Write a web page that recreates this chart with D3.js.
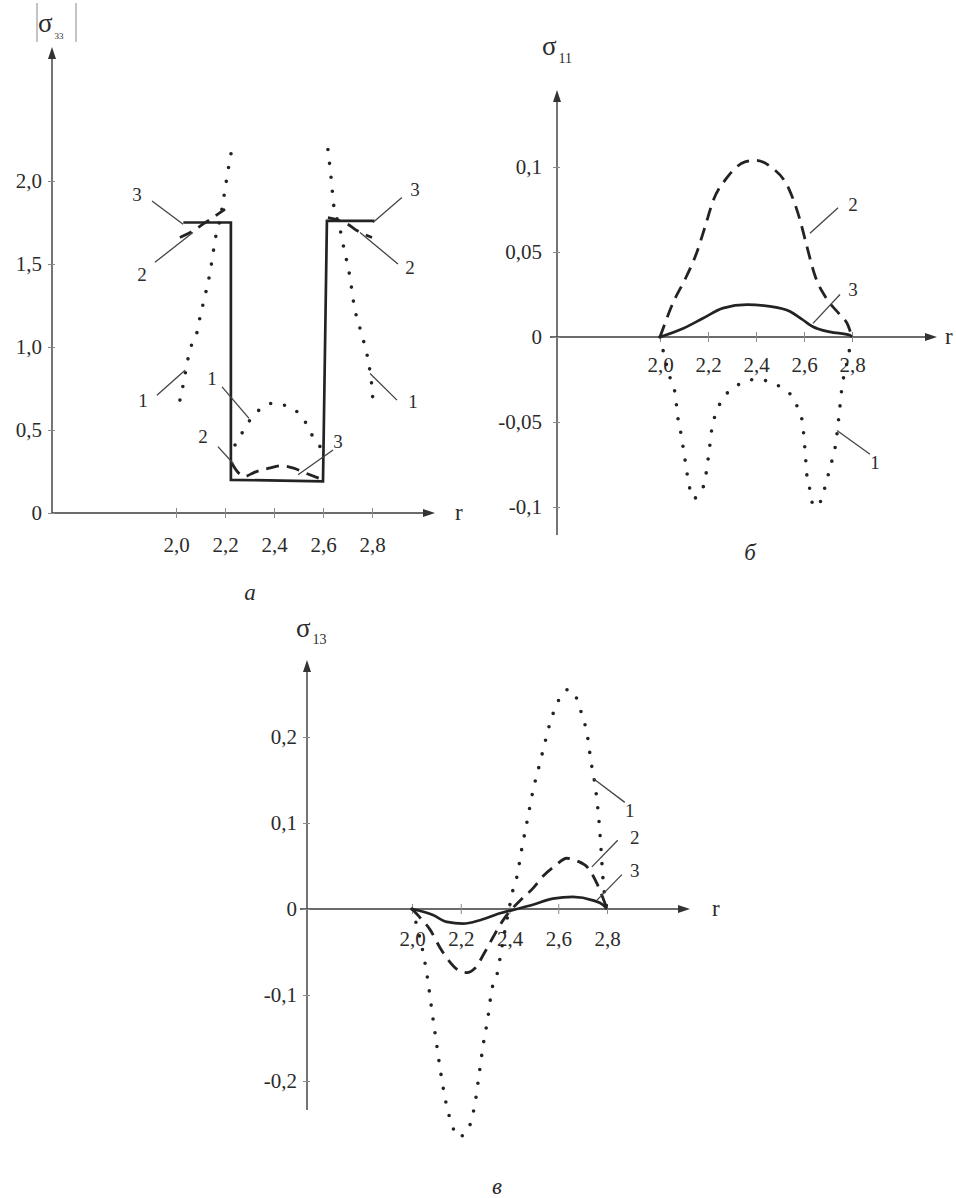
<!DOCTYPE html>
<html>
<head>
<meta charset="utf-8">
<script src="https://cdn.jsdelivr.net/npm/d3@7"></script>
<style>
  body { margin: 0; background: #fff; }
  svg text { font-family: "Liberation Serif", "Times New Roman", serif; fill: #2b2b2b; }
</style>
</head>
<body>
<div id="chart"></div>
<script>
// ---- data ----
var rTicks = [2.0, 2.2, 2.4, 2.6, 2.8];
var rTickLabels = ["2,0", "2,2", "2,4", "2,6", "2,8"];

// panel а : |sigma33|
var yTicksA = [0, 0.5, 1.0, 1.5, 2.0];
var yLabelsA = ["0", "0,5", "1,0", "1,5", "2,0"];
var a1LeftR = [2.016, 2.029, 2.049, 2.065, 2.086, 2.098, 2.114, 2.139, 2.163, 2.18, 2.196, 2.212, 2.229];
var a1LeftV = [0.68, 0.77, 0.93, 1.02, 1.09, 1.18, 1.28, 1.45, 1.67, 1.77, 1.91, 2.06, 2.2];
var a1MidR = [2.241, 2.273, 2.302, 2.339, 2.392, 2.441, 2.494, 2.531, 2.555, 2.588];
var a1MidV = [0.41, 0.49, 0.56, 0.62, 0.66, 0.65, 0.61, 0.54, 0.47, 0.40];
var a1RightR = [2.62, 2.633, 2.645, 2.665, 2.686, 2.71, 2.727, 2.755, 2.784, 2.80, 2.804];
var a1RightV = [2.19, 2.02, 1.84, 1.74, 1.59, 1.42, 1.25, 1.09, 0.92, 0.75, 0.67];
var a2LeftR = [2.016, 2.07, 2.11, 2.171, 2.2];
var a2LeftV = [1.66, 1.70, 1.74, 1.80, 1.83];
var a2BotR = [2.228, 2.25, 2.28, 2.32, 2.38, 2.43, 2.48, 2.53, 2.6];
var a2BotV = [0.30, 0.25, 0.22, 0.245, 0.27, 0.285, 0.27, 0.24, 0.20];
var a2RightR = [2.62, 2.66, 2.70, 2.74, 2.80];
var a2RightV = [1.78, 1.765, 1.74, 1.70, 1.66];
var a3R = [2.03, 2.224, 2.224, 2.60, 2.616, 2.81];
var a3V = [1.75, 1.75, 0.20, 0.19, 1.76, 1.76];
// [label, r, v, leader r1, v1, r2, v2]
var notesA = [
  ["3", 1.841, 1.92, 1.902, 1.88, 2.029, 1.74],
  ["2", 1.861, 1.44, 1.914, 1.51, 2.069, 1.69],
  ["1", 1.865, 0.68, 1.922, 0.71, 2.037, 0.86],
  ["1", 2.147, 0.81, 2.188, 0.76, 2.298, 0.57],
  ["2", 2.110, 0.46, 2.171, 0.40, 2.233, 0.30],
  ["3", 2.661, 0.43, 2.498, 0.23, 2.641, 0.38],
  ["3", 2.976, 1.95, 2.804, 1.75, 2.922, 1.90],
  ["2", 2.955, 1.48, 2.751, 1.69, 2.906, 1.50],
  ["1", 2.967, 0.67, 2.792, 0.84, 2.902, 0.68]
];

// panel б : sigma11
var yTicksB = [-0.1, -0.05, 0, 0.05, 0.1];
var yLabelsB = ["-0,1", "-0,05", "0", "0,05", "0,1"];
var b1R = [2.0, 2.025, 2.042, 2.0625, 2.075, 2.0875, 2.104, 2.121, 2.1375, 2.167, 2.1875, 2.204, 2.217, 2.233,
           2.258, 2.296, 2.342, 2.396, 2.45, 2.508, 2.55, 2.575, 2.592, 2.604, 2.6125, 2.625, 2.633, 2.658,
           2.675, 2.692, 2.708, 2.733, 2.746, 2.758, 2.779, 2.8];
var b1V = [0, -0.015, -0.024, -0.033, -0.048, -0.057, -0.072, -0.087, -0.095, -0.092, -0.084, -0.068, -0.053, -0.045,
           -0.037, -0.031, -0.027, -0.025, -0.026, -0.030, -0.035, -0.042, -0.049, -0.066, -0.082, -0.090, -0.097, -0.100,
           -0.094, -0.086, -0.077, -0.062, -0.046, -0.030, -0.015, 0];
var b2R = [2.0, 2.054, 2.108, 2.154, 2.188, 2.221, 2.275, 2.354, 2.396, 2.4625, 2.5375, 2.583, 2.6125, 2.646, 2.692, 2.75, 2.783, 2.8];
var b2V = [0, 0.020, 0.035, 0.050, 0.065, 0.080, 0.093, 0.103, 0.104, 0.100, 0.087, 0.069, 0.053, 0.036, 0.023, 0.013, 0.007, 0];
var b3R = [2.0, 2.096, 2.179, 2.2625, 2.3625, 2.458, 2.542, 2.596, 2.6375, 2.708, 2.792, 2.8];
var b3V = [0, 0.005, 0.011, 0.017, 0.019, 0.018, 0.015, 0.010, 0.006, 0.003, 0.001, 0];
var notesB = [
  ["2", 2.804, 0.078, 2.625, 0.061, 2.742, 0.076],
  ["3", 2.804, 0.028, 2.6375, 0.008, 2.75, 0.025],
  ["1", 2.896, -0.074, 2.7375, -0.055, 2.875, -0.069]
];

// panel в : sigma13
var yTicksC = [-0.2, -0.1, 0, 0.1, 0.2];
var yLabelsC = ["-0,2", "-0,1", "0", "0,1", "0,2"];
var c1R = [2.0, 2.025, 2.045, 2.066, 2.082, 2.098, 2.115, 2.135, 2.164, 2.189, 2.225, 2.246, 2.258, 2.275, 2.291,
           2.311, 2.328, 2.348, 2.369, 2.398, 2.414, 2.43, 2.451, 2.475, 2.496, 2.525, 2.553, 2.57, 2.59, 2.615,
           2.639, 2.66, 2.684, 2.701, 2.717, 2.734, 2.754, 2.766, 2.775, 2.783, 2.8];
var c1V = [0, -0.025, -0.050, -0.085, -0.119, -0.151, -0.185, -0.219, -0.251, -0.265, -0.259, -0.243, -0.227, -0.193, -0.160,
           -0.127, -0.093, -0.077, -0.044, 0, 0.022, 0.037, 0.071, 0.106, 0.137, 0.170, 0.202, 0.220, 0.235, 0.250,
           0.255, 0.253, 0.238, 0.222, 0.206, 0.172, 0.138, 0.106, 0.072, 0.037, 0];
var c2R = [2.0, 2.033, 2.074, 2.115, 2.148, 2.189, 2.225, 2.258, 2.299, 2.34, 2.381, 2.41, 2.455, 2.496, 2.537,
           2.586, 2.635, 2.676, 2.721, 2.758, 2.783, 2.8];
var c2V = [0, -0.010, -0.024, -0.045, -0.059, -0.071, -0.074, -0.069, -0.050, -0.029, -0.010, 0, 0.013, 0.024, 0.038,
           0.050, 0.059, 0.056, 0.048, 0.030, 0.013, 0];
var c3R = [2.0, 2.086, 2.143, 2.209, 2.279, 2.361, 2.43, 2.496, 2.578, 2.66, 2.742, 2.783, 2.8];
var c3V = [0, -0.007, -0.015, -0.017, -0.013, -0.005, 0, 0.005, 0.012, 0.014, 0.010, 0.005, 0];
var notesC = [
  ["1", 2.893, 0.115, 2.742, 0.152, 2.873, 0.124],
  ["2", 2.914, 0.083, 2.738, 0.049, 2.844, 0.080],
  ["3", 2.914, 0.045, 2.758, 0.010, 2.861, 0.040]
];

// ---- drawing ----
var svg = d3.select("#chart").append("svg")
    .attr("width", 956)
    .attr("height", 1198);

var ink = "#232323";

function pairs(rs, vs) {
    return rs.map(function (r, i) { return [r, vs[i]]; });
}

function drawPanel(p) {
    var x = d3.scaleLinear().domain([2.0, 2.8]).range(p.xRange);
    var y = d3.scaleLinear().domain(p.yDomain).range(p.yRange);
    var g = svg.append("g");
    var y0 = y(0);

    // axes with arrowheads
    g.append("line")
        .attr("x1", p.xFrom).attr("x2", p.xTo - 6)
        .attr("y1", y0).attr("y2", y0)
        .attr("stroke", "#3a3a3a").attr("stroke-width", 1.4);
    g.append("path")
        .attr("d", "M" + p.xTo + "," + y0 + "L" + (p.xTo - 12) + "," + (y0 - 4) + "L" + (p.xTo - 12) + "," + (y0 + 4) + "Z")
        .attr("fill", "#333");
    g.append("line")
        .attr("x1", p.yAxisX).attr("x2", p.yAxisX)
        .attr("y1", p.yFrom).attr("y2", p.yTo + 6)
        .attr("stroke", "#3a3a3a").attr("stroke-width", 1.4);
    g.append("path")
        .attr("d", "M" + p.yAxisX + "," + p.yTo + "L" + (p.yAxisX - 4) + "," + (p.yTo + 12) + "L" + (p.yAxisX + 4) + "," + (p.yTo + 12) + "Z")
        .attr("fill", "#333");
    g.append("text")
        .attr("x", p.xTo + p.rGap).attr("y", y0 + 7)
        .attr("font-size", 23)
        .text("r");

    var xAxis = d3.axisBottom(x)
        .tickValues(rTicks)
        .tickFormat(function (d, i) { return rTickLabels[i]; })
        .tickSizeInner(5).tickSizeOuter(0)
        .tickPadding(p.xPad);
    g.append("g")
        .attr("transform", "translate(0," + y0 + ")")
        .call(xAxis)
        .call(function (s) {
            s.select(".domain").remove();
            s.attr("font-size", 21).attr("font-family", null).attr("color", "#333");
            s.selectAll(".tick line").attr("y1", -5).attr("stroke", "#8a8a8a");
        });

    var yAxis = d3.axisLeft(y)
        .tickValues(p.yTicks)
        .tickFormat(function (d, i) { return p.yLabels[i]; })
        .tickSizeInner(4).tickSizeOuter(0)
        .tickPadding(p.yPad);
    g.append("g")
        .attr("transform", "translate(" + p.yAxisX + ",0)")
        .call(yAxis)
        .call(function (s) {
            s.select(".domain").remove();
            s.attr("font-size", 21).attr("font-family", null).attr("color", "#333");
            s.selectAll(".tick line").attr("x1", 3).attr("stroke", "#8a8a8a");
        });

    var smooth = d3.line()
        .x(function (d) { return x(d[0]); })
        .y(function (d) { return y(d[1]); })
        .curve(d3.curveMonotoneX);
    var straight = d3.line()
        .x(function (d) { return x(d[0]); })
        .y(function (d) { return y(d[1]); });

    var styles = {
        1: { dash: "0,14", width: 3.6, cap: "round" },
        2: { dash: "13,8", width: 2.8, cap: "butt" },
        3: { dash: null, width: 2.7, cap: "butt" }
    };
    p.series.forEach(function (s) {
        var st = styles[s.kind];
        g.append("path")
            .attr("d", (s.linear ? straight : smooth)(pairs(s.r, s.v)))
            .attr("fill", "none")
            .attr("stroke", ink)
            .attr("stroke-width", st.width)
            .attr("stroke-linecap", st.cap)
            .attr("stroke-linejoin", "miter")
            .attr("stroke-dasharray", st.dash);
    });

    // curve numbers with leader lines
    p.notes.forEach(function (n) {
        g.append("line")
            .attr("x1", x(n[3])).attr("y1", y(n[4]))
            .attr("x2", x(n[5])).attr("y2", y(n[6]))
            .attr("stroke", "#444").attr("stroke-width", 1.3);
        g.append("text")
            .attr("x", x(n[1])).attr("y", y(n[2]))
            .attr("dy", "0.35em")
            .attr("text-anchor", "middle")
            .attr("font-size", 19)
            .text(n[0]);
    });

    // axis title (sigma with subscript) and caption
    var t = g.append("text")
        .attr("x", p.titleX).attr("y", p.titleY)
        .attr("font-size", 27);
    t.append("tspan").text("σ");
    t.append("tspan").attr("font-size", p.subSize).attr("dy", p.subDy).attr("dx", 2).text(p.sub);

    g.append("text")
        .attr("x", p.capX).attr("y", p.capY)
        .attr("text-anchor", "middle")
        .attr("font-size", 23)
        .attr("font-style", "italic")
        .text(p.caption);
    return g;
}

var gA = drawPanel({
    xRange: [176, 372], yDomain: [0, 2], yRange: [513, 181],
    xFrom: 52, xTo: 435, yAxisX: 52, yFrom: 513, yTo: 47, rGap: 20,
    xPad: 19, yPad: 6,
    yTicks: yTicksA, yLabels: yLabelsA,
    series: [
        { kind: 1, r: a1LeftR, v: a1LeftV },
        { kind: 1, r: a1MidR, v: a1MidV },
        { kind: 1, r: a1RightR, v: a1RightV },
        { kind: 2, r: a2LeftR, v: a2LeftV },
        { kind: 2, r: a2BotR, v: a2BotV },
        { kind: 2, r: a2RightR, v: a2RightV },
        { kind: 3, r: a3R, v: a3V, linear: true }
    ],
    notes: notesA,
    titleX: 38, titleY: 32, sub: "33", subSize: 9, subDy: 7,
    capX: 250, capY: 600, caption: "а"
});
// modulus bars around sigma33
gA.selectAll(".bar").data([37, 76]).enter().append("line")
    .attr("x1", function (d) { return d; }).attr("x2", function (d) { return d; })
    .attr("y1", 3).attr("y2", 42)
    .attr("stroke", "#888").attr("stroke-width", 1);

drawPanel({
    xRange: [660, 852], yDomain: [-0.1, 0.1], yRange: [507, 167],
    xFrom: 550, xTo: 937, yAxisX: 557, yFrom: 535, yTo: 90, rGap: 8,
    xPad: 15, yPad: 11,
    yTicks: yTicksB, yLabels: yLabelsB,
    series: [
        { kind: 1, r: b1R, v: b1V },
        { kind: 2, r: b2R, v: b2V },
        { kind: 3, r: b3R, v: b3V }
    ],
    notes: notesB,
    titleX: 542, titleY: 55, sub: "11", subSize: 14, subDy: 8,
    capX: 750, capY: 560, caption: "б"
});

drawPanel({
    xRange: [412, 607], yDomain: [-0.2, 0.2], yRange: [1081, 737],
    xFrom: 300, xTo: 690, yAxisX: 307, yFrom: 1110, yTo: 660, rGap: 22,
    xPad: 17, yPad: 6,
    yTicks: yTicksC, yLabels: yLabelsC,
    series: [
        { kind: 1, r: c1R, v: c1V },
        { kind: 2, r: c2R, v: c2V },
        { kind: 3, r: c3R, v: c3V }
    ],
    notes: notesC,
    titleX: 296, titleY: 637, sub: "13", subSize: 14, subDy: 7,
    capX: 497, capY: 1194, caption: "в"
});
</script>
</body>
</html>
